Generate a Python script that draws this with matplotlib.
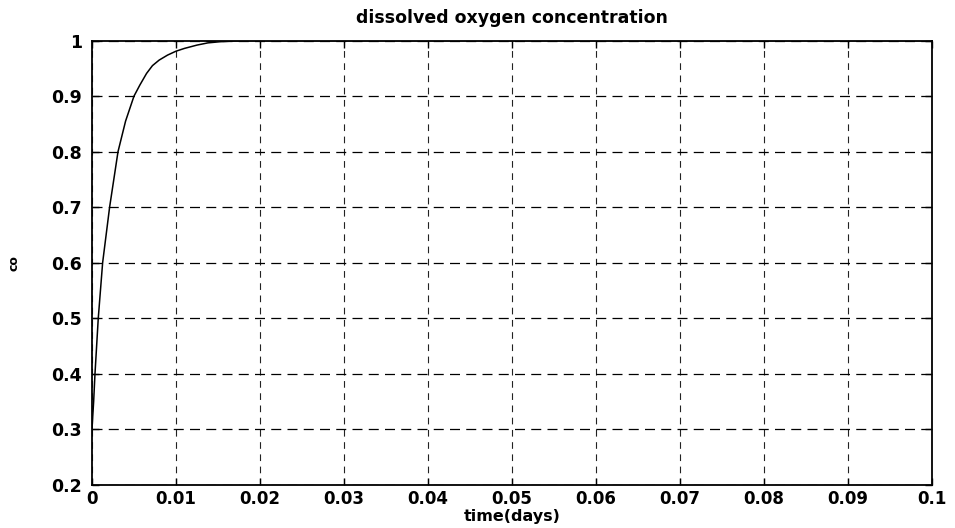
import numpy as np
import matplotlib
matplotlib.use('Agg')
import matplotlib.pyplot as plt

# --- dados ---
time_days = [0.0, 0.0002, 0.00036, 0.00075, 0.00127, 0.0021, 0.0031, 0.0040, 0.0050,
             0.0057, 0.0065, 0.0072, 0.0080, 0.0090, 0.0100, 0.0110, 0.0125, 0.0138,
             0.0152, 0.0170, 0.0190, 0.03, 0.05, 0.07, 0.1]
oxygen = [0.30, 0.35, 0.40, 0.50, 0.60, 0.70, 0.80, 0.855, 0.90,
          0.92, 0.941, 0.955, 0.965, 0.974, 0.981, 0.986, 0.992, 0.996,
          0.998, 0.9995, 1.0, 1.0, 1.0, 1.0, 1.0]

x_ticks = [0, 0.01, 0.02, 0.03, 0.04, 0.05, 0.06, 0.07, 0.08, 0.09, 0.1]
x_tick_labels = ['0', '0.01', '0.02', '0.03', '0.04', '0.05', '0.06', '0.07', '0.08', '0.09', '0.1']
y_ticks = [0.2, 0.3, 0.4, 0.5, 0.6, 0.7, 0.8, 0.9, 1.0]
y_tick_labels = ['0.2', '0.3', '0.4', '0.5', '0.6', '0.7', '0.8', '0.9', '1']

plt.rcParams['font.family'] = ['DejaVu Sans']

fig = plt.figure(figsize=(9.55, 5.28), dpi=100)
ax = fig.add_axes([0.0963, 0.082, 0.8796, 0.841])

ax.plot(time_days, oxygen, color='black', linewidth=1.1)

ax.set_xlim(0, 0.1)
ax.set_ylim(0.2, 1.0)
ax.set_xticks(x_ticks)
ax.set_xticklabels(x_tick_labels, fontsize=12, fontweight='bold')
ax.set_yticks(y_ticks)
ax.set_yticklabels(y_tick_labels, fontsize=12.5, fontweight='bold')
ax.tick_params(direction='in', length=5, width=1, top=True, right=True)
ax.tick_params(axis='x', pad=4)
ax.tick_params(axis='y', pad=7)

# grelha tracejada estilo matlab
ax.yaxis.grid(True, color='black', linestyle=(0, (8, 5)), linewidth=0.9)
ax.xaxis.grid(True, color='#222222', linestyle=(0, (6, 5)), linewidth=0.8)
for s in ax.spines.values():
    s.set_linewidth(1.3)

ax.set_title('dissolved oxygen concentration', fontsize=12.5, fontweight='bold', pad=13)
ax.set_xlabel('time(days)', fontsize=11.5, fontweight='bold')
ax.xaxis.set_label_coords(0.5, -0.055)
ax.set_ylabel('co', fontsize=9, fontweight='bold')
ax.yaxis.set_label_coords(-0.085, 0.5)

plt.savefig('out.png', dpi=100)
plt.close()
